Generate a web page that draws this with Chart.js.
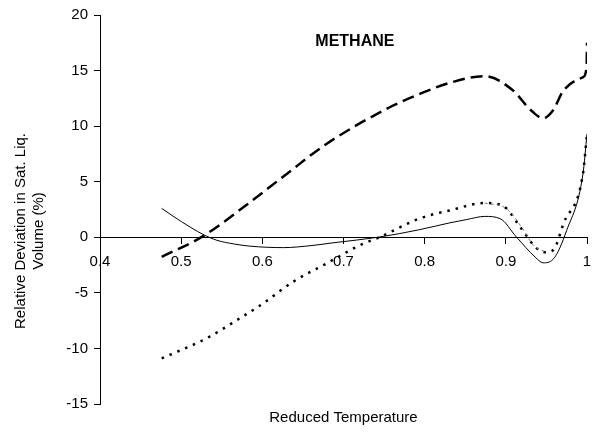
<!DOCTYPE html>
<html>
<head>
<meta charset="utf-8">
<title>Methane</title>
<script src="https://cdn.jsdelivr.net/npm/chart.js@4.4.1/dist/chart.umd.min.js"></script>
<style>
  html, body { margin: 0; padding: 0; background: #fff; }
  canvas { display: block; }
</style>
</head>
<body>
<canvas id="chart" width="594" height="432"></canvas>
<script>
// Reduced temperature / relative deviation pairs for each model curve
const solidT = [0.476, 0.49, 0.511, 0.529, 0.544, 0.565, 0.585, 0.626, 0.66, 0.687, 0.745, 0.794, 0.831, 0.852, 0.874, 0.893, 0.913, 0.936, 0.946, 0.958, 0.975, 0.995, 1.0];
const solidDev = [2.6, 1.9, 0.92, 0.18, -0.27, -0.6, -0.8, -0.93, -0.75, -0.5, 0.03, 0.69, 1.3, 1.6, 1.88, 1.68, 0.03, -1.77, -2.3, -2.0, 0.63, 5.7, 9.3];

const dottedT = [0.476, 0.531, 0.572, 0.601, 0.638, 0.679, 0.72, 0.745, 0.794, 0.831, 0.874, 0.897, 0.918, 0.938, 0.95, 0.96, 0.971, 0.995, 1.0];
const dottedDev = [-10.9, -9.1, -7.3, -5.95, -4.0, -2.36, -0.72, 0.03, 1.7, 2.42, 3.08, 2.8, 0.9, -1.0, -1.35, -1.0, 1.23, 5.7, 9.3];

const thinT = [0.874, 0.901, 0.922, 0.934, 0.948];
const thinDev = [3.08, 2.57, 0.63, -0.72, -1.3];

const dashedT = [0.476, 0.527, 0.577, 0.63, 0.679, 0.757, 0.794, 0.831, 0.874, 0.909, 0.93, 0.946, 0.958, 0.971, 0.995, 0.9995, 1.0];
const dashedDev = [-1.77, 0.1, 2.72, 5.7, 8.4, 11.7, 12.9, 13.9, 14.5, 13.2, 11.5, 10.7, 11.4, 13.2, 14.4, 15.3, 17.5];

// Axis ranges and labels
const xMin = 0.4, xMax = 1, xStep = 0.1;
const yMin = -15, yMax = 20, yStep = 5;
const chartLabel = "METHANE";
const labelAt = [0.714, 17.6];
const xTitle = "Reduced Temperature";
const yTitle = ["Relative Deviation in Sat. Liq.", "Volume (%)"];

const FONT = "'Liberation Sans', Arial, sans-serif";

function toPoints(xs, ys) {
  return xs.map((x, i) => ({ x, y: ys[i] }));
}

function lineSet(xs, ys, width, dash, color) {
  return {
    data: toPoints(xs, ys),
    showLine: true,
    borderColor: color || "#000",
    borderWidth: width,
    borderDash: dash,
    pointRadius: 0,
    cubicInterpolationMode: "monotone",
    fill: false,
  };
}

// Chart name inside the plot and the two axis titles
const textPlugin = {
  id: "texts",
  afterDraw(chart) {
    const { ctx, scales, chartArea } = chart;
    ctx.save();
    ctx.fillStyle = "#000";
    ctx.textAlign = "center";
    ctx.textBaseline = "middle";

    ctx.font = "bold 16px " + FONT;
    ctx.fillText(chartLabel, scales.x.getPixelForValue(labelAt[0]), scales.y.getPixelForValue(labelAt[1]));

    ctx.font = "15px " + FONT;
    ctx.fillText(xTitle, (chartArea.left + chartArea.right) / 2, 418);

    ctx.translate(21, 231);
    ctx.rotate(-Math.PI / 2);
    ctx.fillText(yTitle[0], 0, 0);
    ctx.fillText(yTitle[1], 0, 18);
    ctx.restore();
  },
};

new Chart(document.getElementById("chart").getContext("2d"), {
  type: "scatter",
  data: {
    datasets: [
      lineSet(dashedT, dashedDev, 2.5, [12, 6]),
      lineSet(thinT, thinDev, 1, [3, 3], "#777"),
      lineSet(dottedT, dottedDev, 2.5, [2.5, 6]),
      lineSet(solidT, solidDev, 1, []),
    ],
  },
  options: {
    responsive: false,
    animation: false,
    layout: { padding: { left: 0, right: 7, top: 14, bottom: 28 } },
    plugins: {
      legend: { display: false },
      tooltip: { enabled: false },
    },
    scales: {
      x: {
        type: "linear",
        position: { y: 0 },
        min: xMin,
        max: xMax,
        afterFit: (scale) => { scale.paddingLeft = 0; scale.paddingRight = 0; },
        border: { color: "#000", width: 1 },
        grid: { drawOnChartArea: false, tickLength: 6, color: "#000" },
        ticks: {
          stepSize: xStep,
          color: "#000",
          padding: 10,
          font: { family: FONT, size: 15 },
          maxRotation: 0,
          autoSkip: false,
          callback: (v) => String(Number(v.toFixed(1))),
        },
      },
      y: {
        type: "linear",
        min: yMin,
        max: yMax,
        afterFit: (scale) => { scale.width = 100; },
        border: { color: "#000", width: 1 },
        grid: { drawOnChartArea: false, tickLength: 6, color: "#000" },
        ticks: {
          stepSize: yStep,
          color: "#000",
          padding: 6,
          font: { family: FONT, size: 15 },
        },
      },
    },
  },
  plugins: [textPlugin],
});
</script>
</body>
</html>
